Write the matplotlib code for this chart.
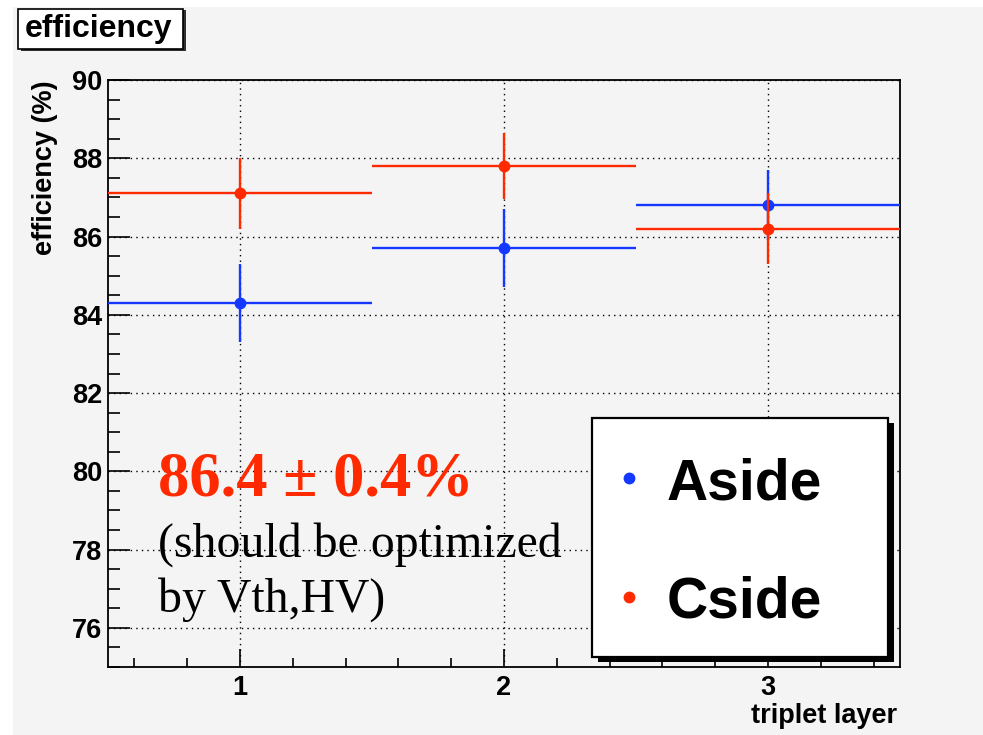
"""Efficiency per triplet layer, A side vs C side."""

import matplotlib
matplotlib.use("Agg")
import matplotlib.pyplot as plt
from matplotlib.lines import Line2D
from matplotlib.patches import Rectangle
from matplotlib.ticker import MultipleLocator

# data
layers = [1, 2, 3]
bin_halfwidth = [0.5, 0.5, 0.5]
aside_eff = [84.3, 85.7, 86.8]
aside_err = [1.0, 1.0, 0.9]
cside_eff = [87.1, 87.8, 86.2]
cside_err = [0.9, 0.85, 0.9]
series_names = ["Aside", "Cside"]
summary_value = "86.4 \u00b1 0.4%"
note_lines = ["(should be optimized", "by Vth,HV)"]

BLUE = "#1438ff"
RED = "#ff2a00"
BG = "#f4f4f4"
SANS = "Liberation Sans"
SERIF = "Liberation Serif"

W, H = 983, 735


def fx(x):
    return x / W


def fy(y):
    return 1 - y / H


fig = plt.figure(figsize=(W / 100, H / 100), dpi=100, facecolor="white")
fig.patches.append(Rectangle((fx(13), fy(H)), fx(W - 13), 1 - 7 / H,
                             transform=fig.transFigure, facecolor=BG,
                             edgecolor="none", zorder=-10))

ax = fig.add_axes([fx(108), fy(667), fx(900 - 108), (667 - 80) / H])
ax.set_facecolor(BG)

ax.errorbar(layers, aside_eff, xerr=bin_halfwidth, yerr=aside_err, fmt="o",
            color=BLUE, ms=7.5, lw=1.7, capsize=0, zorder=3)
ax.errorbar(layers, cside_eff, xerr=bin_halfwidth, yerr=cside_err, fmt="o",
            color=RED, ms=7.5, lw=1.7, capsize=0, zorder=4)

ax.set_xlim(0.5, 3.5)
ax.set_ylim(75, 90)
ax.xaxis.set_major_locator(MultipleLocator(1))
ax.xaxis.set_minor_locator(MultipleLocator(0.2))
ax.yaxis.set_major_locator(MultipleLocator(2))
ax.yaxis.set_minor_locator(MultipleLocator(0.5))
ax.grid(True, which="major", color="black", lw=1.0, ls=(0, (1, 3)))

ax.tick_params(axis="both", which="both", direction="in", top=False,
               right=False, width=1.2, colors="black")
ax.tick_params(axis="y", which="major", length=16, pad=4)
ax.tick_params(axis="y", which="minor", length=8.5)
ax.tick_params(axis="x", which="major", length=13, pad=6)
ax.tick_params(axis="x", which="minor", length=6.5)
for lab in ax.get_xticklabels() + ax.get_yticklabels():
    lab.set_fontfamily(SANS)
    lab.set_fontweight("bold")
    lab.set_fontsize(19.5)
for sp in ax.spines.values():
    sp.set_linewidth(1.3)
    sp.set_color("black")

# axis titles, ROOT-style placement
fig.text(fx(897), fy(723), "triplet layer", family=SANS, weight="bold",
         fontsize=19.5, ha="right", va="baseline")
fig.text(fx(45), fy(80), "efficiency (%)", family=SANS, weight="bold",
         fontsize=19.5, rotation=90, ha="center", va="top")

# title box
fig.patches.append(Rectangle((fx(21), fy(51)), fx(183 - 18), (50 - 9) / H,
                             transform=fig.transFigure, facecolor="#303030",
                             edgecolor="none", zorder=5))
fig.patches.append(Rectangle((fx(18), fy(49)), fx(183 - 18), (49 - 9) / H,
                             transform=fig.transFigure, facecolor="white",
                             edgecolor="black", lw=1.2, zorder=6))
fig.text(fx(99), fy(29), "efficiency", family=SANS, weight="bold",
         fontsize=23, ha="center", va="center", zorder=7)

# summary annotation
fig.text(fx(158), fy(496), summary_value, family=SERIF, weight="bold",
         fontsize=45, color=RED, ha="left", va="baseline")
for line, base in zip(note_lines, [557, 612]):
    fig.text(fx(158), fy(base), line, family=SERIF, fontsize=34.4,
             color="black", ha="left", va="baseline")

# legend box with solid shadow
fig.patches.append(Rectangle((fx(598), fy(662)), fx(888 - 592), (657 - 418) / H,
                             transform=fig.transFigure, facecolor="black",
                             edgecolor="none", zorder=5))
fig.patches.append(Rectangle((fx(592), fy(657)), fx(888 - 592), (657 - 418) / H,
                             transform=fig.transFigure, facecolor="white",
                             edgecolor="black", lw=1.6, zorder=6))
for name, color, my, base in zip(series_names, [BLUE, RED], [478, 597], [500, 618]):
    fig.lines.append(Line2D([fx(629)], [fy(my)], transform=fig.transFigure,
                            marker="o", ms=7.5, color=color, ls="none", zorder=7))
    fig.text(fx(667), fy(base), name, family=SANS, weight="bold", fontsize=41,
             ha="left", va="baseline", zorder=7)

fig.savefig("out.png", dpi=100, facecolor=fig.get_facecolor())
